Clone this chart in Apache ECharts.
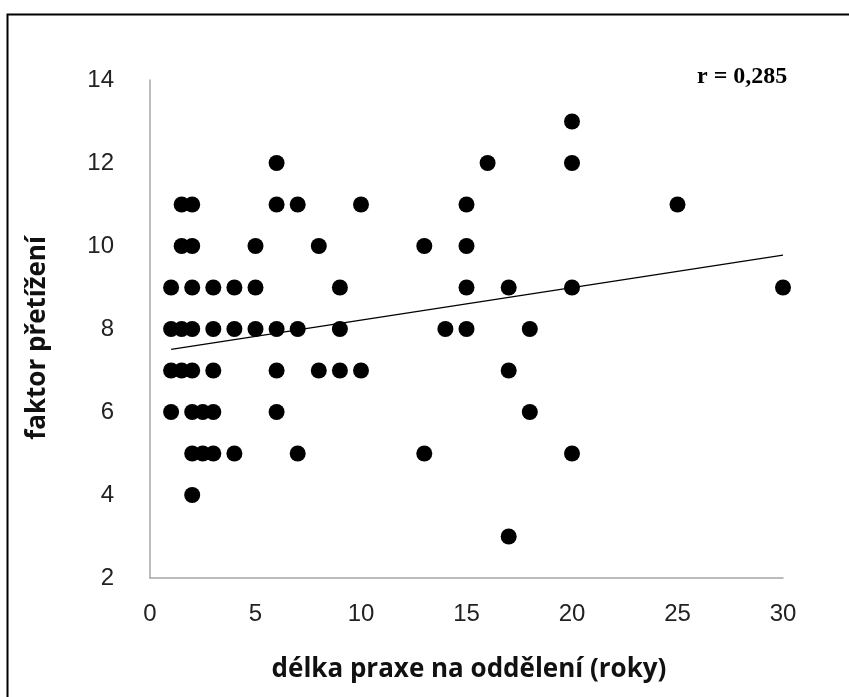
<!DOCTYPE html>
<html>
<head>
<meta charset="utf-8">
<script src="https://cdn.jsdelivr.net/npm/echarts@6/dist/echarts.min.js"></script>
<style>
html,body{margin:0;padding:0;background:#fff;}
#c{width:849px;height:697px;}
</style>
</head>
<body>
<div id="c"></div>
<script>
// délka praxe (roky)
const praxe = [
  20,
  6, 16, 20,
  1.5, 2, 6, 7, 10, 15, 25,
  1.5, 2, 5, 8, 13, 15,
  1, 2, 3, 4, 5, 9, 15, 17, 20, 30,
  1, 1.5, 2, 3, 4, 5, 6, 7, 9, 14, 15, 18,
  1, 1.5, 2, 3, 6, 8, 9, 10, 17,
  1, 2, 2.5, 3, 6, 18,
  2, 2.5, 3, 4, 7, 13, 20,
  2,
  17
];
// faktor přetížení
const pretizeni = [
  13,
  12, 12, 12,
  11, 11, 11, 11, 11, 11, 11,
  10, 10, 10, 10, 10, 10,
  9, 9, 9, 9, 9, 9, 9, 9, 9, 9,
  8, 8, 8, 8, 8, 8, 8, 8, 8, 8, 8, 8,
  7, 7, 7, 7, 7, 7, 7, 7, 7,
  6, 6, 6, 6, 6, 6,
  5, 5, 5, 5, 5, 5, 5,
  4,
  3
];
// trend line endpoints
const trendX = [1, 30];
const trendY = [7.51, 9.78];
const xTicks = [0, 5, 10, 15, 20, 25, 30];
const yTicks = [2, 4, 6, 8, 10, 12, 14];

const points = praxe.map((x, i) => [x, pretizeni[i]]);
const trend = trendX.map((x, i) => [x, trendY[i]]);

const chart = echarts.init(document.getElementById('c'), null, {renderer: 'canvas'});
const labelFont = '"Liberation Sans Narrow", "Liberation Sans", sans-serif';
const titleFont = 'bold 26px "Open Sans", "Liberation Sans", sans-serif';
chart.setOption({
  animation: false,
  backgroundColor: '#fff',
  grid: {left: 150, right: 66, top: 80, bottom: 119},
  xAxis: {
    type: 'value', min: xTicks[0], max: xTicks[xTicks.length - 1], interval: 5,
    axisLine: {show: true, lineStyle: {color: '#a6a6a6', width: 1.5}},
    axisTick: {show: false},
    splitLine: {show: false},
    axisLabel: {color: '#222', fontSize: 24, fontFamily: labelFont, margin: 24}
  },
  yAxis: {
    type: 'value', min: yTicks[0], max: yTicks[yTicks.length - 1], interval: 2,
    axisLine: {show: true, lineStyle: {color: '#a6a6a6', width: 1.5}},
    axisTick: {show: false},
    splitLine: {show: false},
    axisLabel: {color: '#222', fontSize: 24, fontFamily: labelFont, margin: 36}
  },
  series: [
    {
      type: 'scatter', data: points, symbol: 'circle', symbolSize: 16,
      itemStyle: {color: '#000', opacity: 1}, z: 3
    },
    {
      type: 'line', data: trend, showSymbol: false, symbol: 'none',
      lineStyle: {color: '#000', width: 1.2}, z: 4
    }
  ],
  graphic: [
    {type: 'rect', left: 5, top: 12, shape: {width: 900, height: 800},
     style: {fill: 'none', stroke: '#000', lineWidth: 2}, silent: true},
    {type: 'text', left: 697, top: 65,
     style: {text: 'r = 0,285', font: 'bold 24px "Liberation Serif", serif', fill: '#000'}},
    {type: 'text', x: 469, y: 670,
     style: {text: 'délka praxe na oddělení (roky)', font: titleFont, fill: '#111', align: 'center', verticalAlign: 'middle'}},
    {type: 'text', x: 38, y: 338, rotation: Math.PI / 2,
     style: {text: 'faktor přetížení', font: titleFont, fill: '#111', align: 'center', verticalAlign: 'middle'}}
  ]
});
</script>
</body>
</html>
